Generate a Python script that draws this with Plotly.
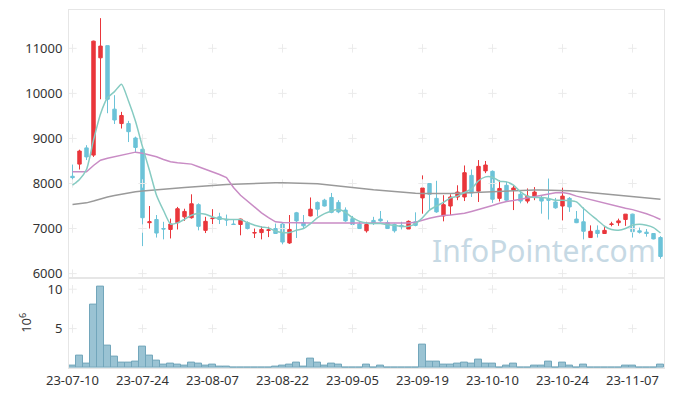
import plotly.graph_objects as go
from plotly.subplots import make_subplots

dates = [
    "2023-07-10","2023-07-11","2023-07-12","2023-07-13","2023-07-14","2023-07-17","2023-07-18","2023-07-19","2023-07-20","2023-07-21",
    "2023-07-24","2023-07-25","2023-07-26","2023-07-27","2023-07-28","2023-07-31","2023-08-01","2023-08-02","2023-08-03","2023-08-04",
    "2023-08-07","2023-08-08","2023-08-09","2023-08-10","2023-08-11","2023-08-14","2023-08-16","2023-08-17","2023-08-18","2023-08-21",
    "2023-08-22","2023-08-23","2023-08-24","2023-08-25","2023-08-28","2023-08-29","2023-08-30","2023-08-31","2023-09-01","2023-09-04",
    "2023-09-05","2023-09-06","2023-09-07","2023-09-08","2023-09-11","2023-09-12","2023-09-13","2023-09-14","2023-09-15","2023-09-18",
    "2023-09-19","2023-09-20","2023-09-21","2023-09-22","2023-09-25","2023-09-26","2023-09-27","2023-10-04","2023-10-05","2023-10-06",
    "2023-10-10","2023-10-11","2023-10-12","2023-10-13","2023-10-16","2023-10-17","2023-10-18","2023-10-19","2023-10-20","2023-10-23",
    "2023-10-24","2023-10-25","2023-10-26","2023-10-27","2023-10-30","2023-10-31","2023-11-01","2023-11-02","2023-11-03","2023-11-06",
    "2023-11-07","2023-11-08","2023-11-09","2023-11-10","2023-11-13",
]

open_ = [8160,8430,8790,8630,10790,11060,9650,9330,9330,9010,
         8760,7130,7200,7000,6980,7130,7260,7240,7530,6960,
         7220,7260,7200,7100,7090,7130,6900,6910,6960,7000,
         7100,6680,7350,7130,7280,7580,7630,7690,7580,7410,
         7220,7100,6950,7180,7210,7130,7090,7070,6990,7150,
         7680,8000,7670,7280,7500,7700,7700,8180,7830,8280,
         8270,7670,7960,7850,7760,7610,7700,7680,7650,7590,
         7500,7670,7210,7150,6800,6960,6890,7090,7130,7200,
         7320,6950,6920,6890,6800]
high = [8420,8750,8850,11170,11670,11060,9960,9590,9390,9040,
        8770,7500,7300,7150,7220,7480,7440,7760,7560,7260,
        7430,7350,7310,7200,7220,7160,7000,7050,7040,7110,
        7130,7300,7370,7300,7690,7600,7660,7790,7630,7470,
        7280,7170,7150,7260,7390,7180,7110,7150,7180,7360,
        8180,8010,8060,7740,7760,7960,8400,8310,8520,8500,
        8290,8070,8040,7960,7850,7890,7920,7740,8110,7680,
        8040,7700,7390,7470,7070,7070,7060,7150,7220,7320,
        7330,7020,6990,6900,6830]
low = [7990,8310,8520,8590,9870,9560,9320,9220,8920,8700,
       6610,7000,6800,6760,6780,6980,7170,7220,6960,6900,
       7100,7100,7060,7080,6850,6980,6790,6760,6810,6880,
       6650,6660,6790,7000,7270,7270,7490,7340,7340,7150,
       7070,6990,6910,7080,7150,6990,6910,6980,6990,7050,
       7330,7390,7350,7160,7300,7630,7610,7700,7590,8230,
       7570,7600,7600,7410,7560,7560,7630,7330,7200,7440,
       7180,7370,7120,6760,6790,6800,6880,7050,7060,7060,
       6800,6890,6820,6760,6330]
close = [8130,8720,8590,11160,11050,9870,9410,9510,9150,8800,
         7240,7150,6900,6990,7100,7440,7380,7550,7050,7160,
         7230,7200,7190,7090,7210,7000,6910,6980,6970,6890,
         6700,6980,7170,7060,7430,7430,7500,7360,7370,7170,
         7090,7000,7090,7110,7170,7000,6950,7040,7160,7070,
         7900,7760,7370,7530,7700,7810,8240,7790,8380,8410,
         7650,7890,7630,7900,7610,7720,7810,7610,7630,7460,
         7720,7480,7130,6940,6940,6890,6960,7100,7170,7320,
         6930,6920,6890,6770,6380]

ma5 = [7962,8090,8310,8962,9545,9903,10040,10205,9830,9380,
       8815,8290,7740,7400,7100,7125,7205,7296,7333,7318,
       7258,7222,7207,7200,7200,7133,7073,7036,7014,6945,
       6911,6911,6962,7000,7110,7240,7330,7390,7420,7360,
       7240,7160,7125,7111,7111,7089,7073,7051,7051,7111,
       7240,7410,7500,7580,7680,7720,7800,7880,8060,8147,
       8140,8051,8036,7962,7813,7718,7689,7689,7667,7629,
       7629,7620,7593,7444,7311,7184,7051,6978,6962,7000,
       7073,7096,7073,7022,6900]
ma20 = [8258,8258,8258,8400,8518,8560,8592,8630,8670,8696,
        8670,8630,8592,8533,8481,8459,8444,8430,8370,8318,
        8258,8200,8130,7910,7740,7607,7480,7347,7244,7150,
        7133,7128,7125,7125,7125,7125,7125,7125,7125,7125,
        7125,7125,7125,7122,7120,7120,7120,7122,7125,7140,
        7190,7230,7260,7290,7300,7320,7340,7380,7420,7460,
        7510,7560,7600,7620,7650,7680,7720,7750,7780,7795,
        7800,7770,7720,7680,7640,7610,7570,7530,7490,7450,
        7420,7380,7330,7270,7200]
ma60 = [7535,7550,7570,7610,7660,7700,7735,7765,7790,7815,
        7835,7850,7865,7878,7890,7900,7910,7920,7928,7940,
        7955,7965,7975,7985,7992,7998,8002,8008,8012,8015,
        8016,8014,8010,8006,8000,7992,7980,7966,7950,7935,
        7920,7900,7880,7860,7845,7830,7812,7800,7790,7782,
        7778,7776,7776,7777,7780,7785,7792,7800,7810,7820,
        7830,7838,7845,7850,7855,7857,7858,7858,7856,7853,
        7848,7840,7830,7815,7800,7785,7770,7755,7740,7725,
        7710,7695,7680,7665,7650]

volume_m = [0.25,1.56,0.55,8.04,10.37,2.83,1.43,0.71,0.71,0.84,
            2.7,1.56,0.97,0.42,0.55,0.42,0.29,0.71,0.55,0.29,
            0.42,0.16,0.12,0.1,0.1,0.1,0.1,0.1,0.1,0.12,
            0.29,0.42,0.71,0.15,1.18,0.68,0.29,0.55,0.42,0.1,
            0.1,0.1,0.42,0.1,0.29,0.1,0.1,0,0.1,0.1,
            3.0,0.8,0.8,0.42,0.42,0.55,0.71,0.55,1.05,0.55,
            0.55,0.1,0.29,0.55,0.1,0.1,0.29,0.29,0.8,0.1,
            0.71,0.29,0.1,0.42,0.1,0,0,0,0.1,0.29,
            0.29,0,0.1,0,0.42]

tick_idx = [0,10,20,30,40,50,60,70,80]
tick_text = ["23-07-10","23-07-24","23-08-07","23-08-22","23-09-05","23-09-19","23-10-10","23-10-24","23-11-07"]
price_ticks = [6000,7000,8000,9000,10000,11000]
vol_ticks = [5,10]

FONT = "Noto Sans"
GRID = "#e6e6e6"

fig = make_subplots(rows=2, cols=1, shared_xaxes=True, vertical_spacing=0,
                    row_heights=[0.7475, 0.2525])

tick_dates = [dates[i] for i in tick_idx]
# grid "+" marks at tick intersections
gx, gy = [], []
for d in tick_dates:
    for p in price_ticks:
        gx.append(d); gy.append(p)
fig.add_trace(go.Scatter(x=gx, y=gy, mode="markers", hoverinfo="skip", showlegend=False,
                         marker=dict(symbol="cross-thin", size=6, line=dict(color="#ebebeb", width=1))),
              row=1, col=1)
vx, vy = [], []
for d in tick_dates:
    for v in vol_ticks:
        vx.append(d); vy.append(v)
fig.add_trace(go.Scatter(x=vx, y=vy, mode="markers", hoverinfo="skip", showlegend=False,
                         marker=dict(symbol="cross-thin", size=6, line=dict(color="#ebebeb", width=1))),
              row=2, col=1)

fig.add_trace(go.Scatter(x=dates, y=ma60, mode="lines", line=dict(color="#9a9a9a", width=1.5),
                         showlegend=False), row=1, col=1)
fig.add_trace(go.Scatter(x=dates, y=ma20, mode="lines", line=dict(color="#c98cc5", width=1.5),
                         showlegend=False), row=1, col=1)
fig.add_trace(go.Scatter(x=dates, y=ma5, mode="lines", line=dict(color="#86cbc2", width=1.5, shape="spline", smoothing=0.6),
                         showlegend=False), row=1, col=1)

fig.add_trace(go.Candlestick(x=dates, open=open_, high=high, low=low, close=close,
                             increasing=dict(line=dict(color="#e9363b", width=1), fillcolor="#e9363b"),
                             decreasing=dict(line=dict(color="#6cc3d8", width=1), fillcolor="#6cc3d8"),
                             whiskerwidth=0, showlegend=False), row=1, col=1)

fig.add_trace(go.Bar(x=dates, y=volume_m, marker=dict(color="#9ac3d3", line=dict(color="#72a6bb", width=1)),
                     showlegend=False), row=2, col=1)

axis_font = dict(family=FONT, size=13, color="#333333")
fig.update_xaxes(type="category", categoryorder="array", categoryarray=dates,
                 range=[-0.5, 84.5], showgrid=False, zeroline=False, automargin=False,
                 showline=True, mirror=True, linecolor=GRID, linewidth=1,
                 tickmode="array", tickvals=tick_dates, ticktext=tick_text, tickangle=0,
                 ticks="", tickfont=axis_font, rangeslider_visible=False)
fig.update_xaxes(showticklabels=False, row=1, col=1)
fig.update_yaxes(range=[5911, 11851], tickvals=price_ticks, tickformat="d", showgrid=False, zeroline=False,
                 showline=True, mirror=True, linecolor=GRID, ticks="", tickfont=axis_font, automargin=False,
                 ticklabelstandoff=3, row=1, col=1)
fig.update_yaxes(range=[0, 11.47], tickvals=vol_ticks, showgrid=False, zeroline=False,
                 showline=True, mirror=True, linecolor=GRID, ticks="", tickfont=axis_font, automargin=False,
                 ticklabelstandoff=3,
                 title=dict(text="10<sup>6</sup>", font=axis_font, standoff=12),
                 row=2, col=1)

fig.add_annotation(text="InfoPointer.com", xref="paper", yref="paper", x=0.99, y=0.265,
                   xanchor="right", yanchor="bottom", showarrow=False,
                   font=dict(family=FONT, size=30, color="#c6d9e4"))

# the page body adds an 8px offset; size the figure so the plot lands where the reference has it
fig.update_layout(width=657, height=380, margin=dict(l=61, r=1, t=2, b=20),
                  paper_bgcolor="white", plot_bgcolor="white", bargap=0,
                  font=dict(family=FONT), showlegend=False)

fig.write_html("out.html")
